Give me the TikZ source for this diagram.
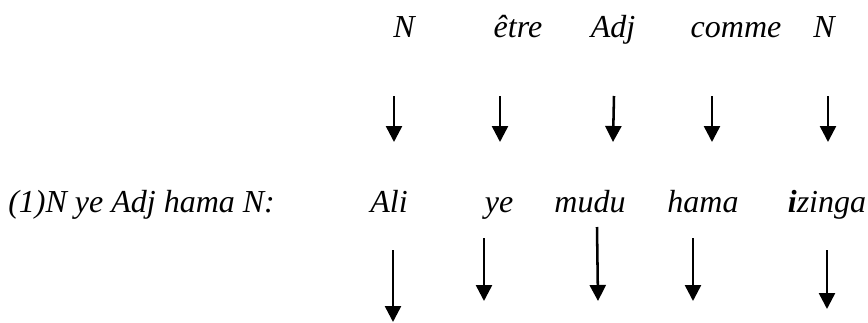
\documentclass[tikz,border=0pt]{standalone}
\usepackage{fontspec}
\setmainfont{Liberation Serif}
\usetikzlibrary{arrows.meta}

\begin{document}
\begin{tikzpicture}[
    x=0.75pt, y=-0.75pt,
    word/.style={inner sep=0pt, anchor=base, font=\fontsize{24}{28}\selectfont\itshape},
    arr/.style={-{Triangle[width=12pt, length=12pt]}, line width=1.9pt}
]
    \useasboundingbox (0,0) rectangle (868,322);

    % top row
    \node[word] (tN1) at (404, 37) {N};
    \node[word] (tetre) at (518, 37) {être};
    \node[word] (tadj) at (613, 37) {Adj};
    \node[word] (tcomme) at (736, 37) {comme};
    \node[word] (tN2) at (824, 37) {N};

    % middle row
    \node[word, anchor=base west] (label) at (8, 212) {(1)N ye Adj hama N:};
    \node[word] (mali) at (389, 212) {Ali};
    \node[word] (mye) at (499, 212) {ye};
    \node[word] (mmudu) at (590, 212) {mudu};
    \node[word] (mhama) at (703, 212) {hama};
    \node[word] (mizinga) at (827, 212) {\textbf{i}zinga};

    % arrow ends
    \coordinate (a1) at (394, 96);  \coordinate (b1) at (394, 142);
    \coordinate (a2) at (500, 96);  \coordinate (b2) at (500, 142);
    \coordinate (a3) at (614, 96);  \coordinate (b3) at (613, 142);
    \coordinate (a4) at (712, 96);  \coordinate (b4) at (712, 142);
    \coordinate (a5) at (828, 96);  \coordinate (b5) at (828, 142);

    \coordinate (c1) at (393, 250); \coordinate (d1) at (393, 322);
    \coordinate (c2) at (484, 238); \coordinate (d2) at (484, 301);
    \coordinate (c3) at (597, 227); \coordinate (d3) at (598, 301);
    \coordinate (c4) at (693, 238); \coordinate (d4) at (693, 301);
    \coordinate (c5) at (827, 250); \coordinate (d5) at (827, 309);

    \draw[arr] (a1) -- (b1);
    \draw[arr] (a2) -- (b2);
    \draw[arr] (a3) -- (b3);
    \draw[arr] (a4) -- (b4);
    \draw[arr] (a5) -- (b5);

    \draw[arr] (c1) -- (d1);
    \draw[arr] (c2) -- (d2);
    \draw[arr] (c3) -- (d3);
    \draw[arr] (c4) -- (d4);
    \draw[arr] (c5) -- (d5);
\end{tikzpicture}
\end{document}
